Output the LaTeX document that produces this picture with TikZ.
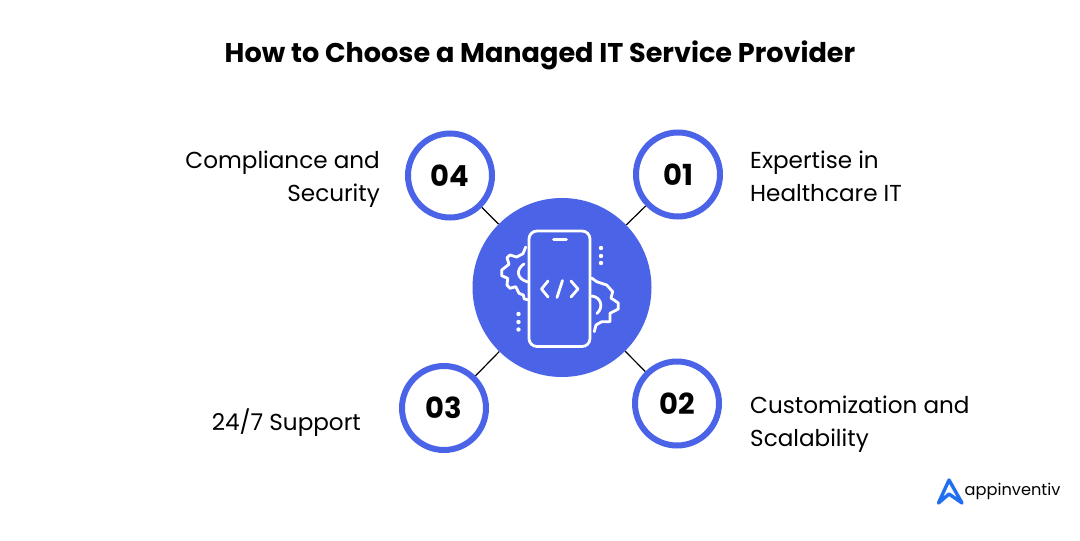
\documentclass[tikz,border=0pt]{standalone}
\usepackage{fontspec}
\setmainfont[Ligatures=NoCommon]{Poppins}
\usetikzlibrary{backgrounds}
\definecolor{brand}{HTML}{4B63E6}
\definecolor{logoblue}{HTML}{1F6FF0}
\tikzset{
  x=1pt,y=-1pt,
  numring/.style={circle,draw=brand,line width=6pt,fill=white,minimum size=84pt,inner sep=0pt,font=\fontsize{29}{29}\selectfont\bfseries},
  hub/.style={circle,fill=brand,minimum size=179pt,inner sep=0pt},
  link/.style={draw=black,line width=1.2pt},
  lbl/.style={font=\fontsize{23.1}{33}\selectfont,inner sep=0pt},
  icon/.style={draw=white,line width=2.8pt,line cap=round,line join=round},
  gear/.style={icon},
  dotw/.style={circle,fill=white,minimum size=4.4pt,inner sep=0pt}
}
\begin{document}
\begin{tikzpicture}
\useasboundingbox (0,0) rectangle (1080,541);
\node[font=\fontsize{27.1}{27}\selectfont\bfseries] (title) at (540,55.5) {How to Choose a Managed IT Service Provider};
\node[hub] (hub) at (562,287.5) {};
\node[numring] (n4) at (450,175.5) {04};
\node[numring] (n1) at (678,174.5) {01};
\node[numring] (n3) at (444,408) {03};
\node[numring] (n2) at (677,403.5) {02};
\begin{scope}[on background layer]
\fill[white] (0,0) rectangle (1080,541);
\draw[link] (n4) -- (hub);
\draw[link] (n1) -- (hub);
\draw[link] (n3) -- (hub);
\draw[link] (n2) -- (hub);
\end{scope}
\node[lbl,anchor=east,align=right] (t4) at (380,179) {Compliance and\\Security};
\node[lbl,anchor=west,align=left] (t1) at (750,176.5) {Expertise in\\Healthcare IT};
\node[lbl,anchor=east] (t3) at (361,423) {24/7 Support};
\node[lbl,anchor=west,align=left] (t2) at (750,424) {Customization and\\Scalability};
% phone
\draw[icon,rounded corners=8pt] (529,231) rectangle (590,346.5);
\draw[icon] (553.5,239.5) -- (566.5,239.5);
\draw[icon] (548,281) -- (541.5,289) -- (548,297);
\draw[icon] (571,281) -- (578,289) -- (571,297);
\draw[icon] (562.5,280.5) -- (557,297.5);
% gears
\draw[gear] (525.7,247) -- (523,253.7) -- (516.7,257) -- (510,255) -- (507,257.7) -- (509,264.3) -- (501.7,270) -- (501.7,275.7) -- (507.7,278.3) -- (507,285) -- (510,288.3) -- (515.7,286.7) -- (519,293.3) -- (523.3,295) -- (524.3,299) -- (529,300);
\draw[icon] (524,264) .. controls (516,269) and (516,279) .. (528,282);
\draw[gear] (591.7,278) -- (596.7,281.7) -- (606.7,285) -- (612.7,291.7) -- (611,298) -- (618.3,303) -- (618.3,309) -- (610,313.3) -- (610,321.7) -- (601.7,321.7) -- (596,325) -- (594.3,331.7);
\draw[icon] (591.7,296) .. controls (601,297) and (604,307) .. (597,313.5);
\node[dotw] (d1) at (601,248) {};
\node[dotw] (d2) at (601,256) {};
\node[dotw] (d3) at (601,263) {};
\node[dotw] (d4) at (518.5,314) {};
\node[dotw] (d5) at (518.5,322) {};
\node[dotw] (d6) at (518.5,329.5) {};
% logo
\draw[logoblue,line width=3.4pt,line cap=round,line join=round] (938.5,503) -- (949,480) -- (962,503) -- (949,494) -- cycle;
\node[anchor=west,inner sep=0pt,font=\fontsize{16.2}{17}\selectfont] (logo) at (964.5,491) {appinventiv};
\end{tikzpicture}
\end{document}
